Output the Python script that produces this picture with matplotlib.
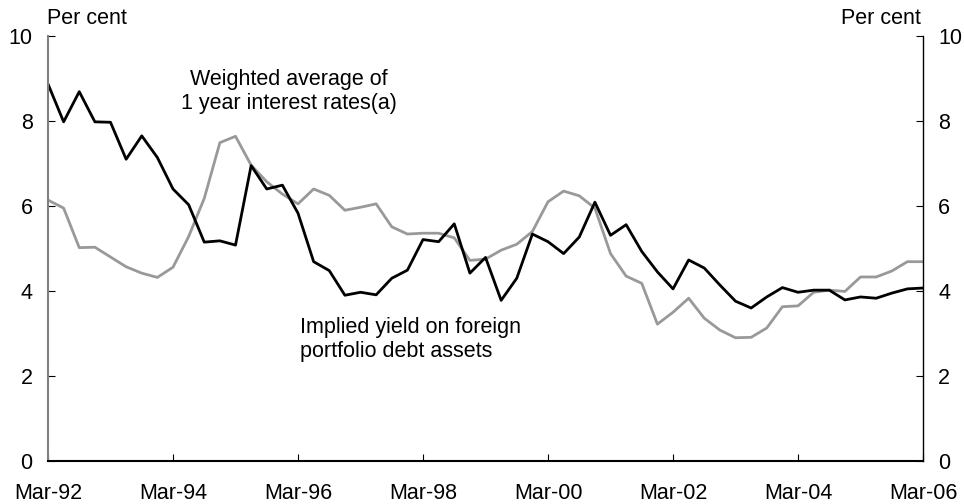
import matplotlib
matplotlib.use("Agg")
import matplotlib.pyplot as plt
import numpy as np

plt.rcParams["font.family"] = ["Liberation Sans", "DejaVu Sans"]

# quarterly observations, Mar-92 to Mar-06
quarters = np.arange(57)
tick_pos = np.arange(0, 57, 8)
tick_labels = ["Mar-92", "Mar-94", "Mar-96", "Mar-98", "Mar-00", "Mar-02", "Mar-04", "Mar-06"]

# weighted average of 1 year interest rates (black)
interest_rates = [
    8.87, 7.98, 8.69, 7.98, 7.97, 7.10, 7.65, 7.14, 6.40, 6.03,
    5.15, 5.18, 5.08, 6.95, 6.40, 6.49, 5.83, 4.69, 4.48, 3.90,
    3.97, 3.91, 4.30, 4.49, 5.21, 5.16, 5.58, 4.42, 4.79, 3.78,
    4.30, 5.34, 5.16, 4.88, 5.27, 6.09, 5.31, 5.56, 4.93, 4.45,
    4.05, 4.73, 4.54, 4.14, 3.76, 3.60, 3.86, 4.08, 3.97, 4.02,
    4.02, 3.79, 3.86, 3.83, 3.95, 4.05, 4.07,
]

# implied yield on foreign portfolio debt assets (grey)
implied_yield = [
    6.14, 5.95, 5.02, 5.03, 4.80, 4.57, 4.42, 4.32, 4.56, 5.28,
    6.18, 7.49, 7.64, 6.96, 6.57, 6.28, 6.05, 6.40, 6.25, 5.90,
    5.97, 6.05, 5.51, 5.34, 5.36, 5.36, 5.25, 4.72, 4.75, 4.96,
    5.10, 5.40, 6.10, 6.35, 6.24, 5.95, 4.88, 4.35, 4.18, 3.22,
    3.50, 3.83, 3.36, 3.08, 2.90, 2.91, 3.13, 3.63, 3.65, 3.97,
    4.02, 3.99, 4.33, 4.33, 4.47, 4.69, 4.69,
]

fs = 15.5

fig = plt.figure(figsize=(9.64, 5.04), dpi=100)
ax = fig.add_axes([0.0498, 0.0853, 0.9077, 0.8433])

ax.plot(quarters, implied_yield, color="#999999", lw=2.0)
ax.plot(quarters, interest_rates, color="black", lw=2.0)

ax.set_xlim(0, 56)
ax.set_ylim(0, 10)
ax.set_yticks([0, 2, 4, 6, 8, 10])
ax.set_xticks(tick_pos)
ax.set_xticklabels(tick_labels)

ax.tick_params(axis="y", direction="in", length=5, left=True, right=True,
               labelleft=True, labelright=True, labelsize=fs, pad=11)
ax.tick_params(axis="x", direction="in", length=5, labelsize=fs, pad=15.5)

ax.spines["top"].set_visible(False)
ax.spines["left"].set_color("#808080")
ax.spines["left"].set_linewidth(1.5)
ax.spines["right"].set_linewidth(1.0)
ax.spines["bottom"].set_linewidth(1.5)

fig.text(0.0488, 0.964, "Per cent", fontsize=fs, ha="left", va="center")
fig.text(0.9555, 0.964, "Per cent", fontsize=fs, ha="right", va="center")

ax.text(15.4, 8.7, "Weighted average of\n1 year interest rates(a)", fontsize=fs,
        ha="center", va="center", linespacing=1.2)
ax.text(16.1, 2.85, "Implied yield on foreign\nportfolio debt assets", fontsize=fs,
        ha="left", va="center", linespacing=1.2)

fig.savefig("out.png", dpi=100)
